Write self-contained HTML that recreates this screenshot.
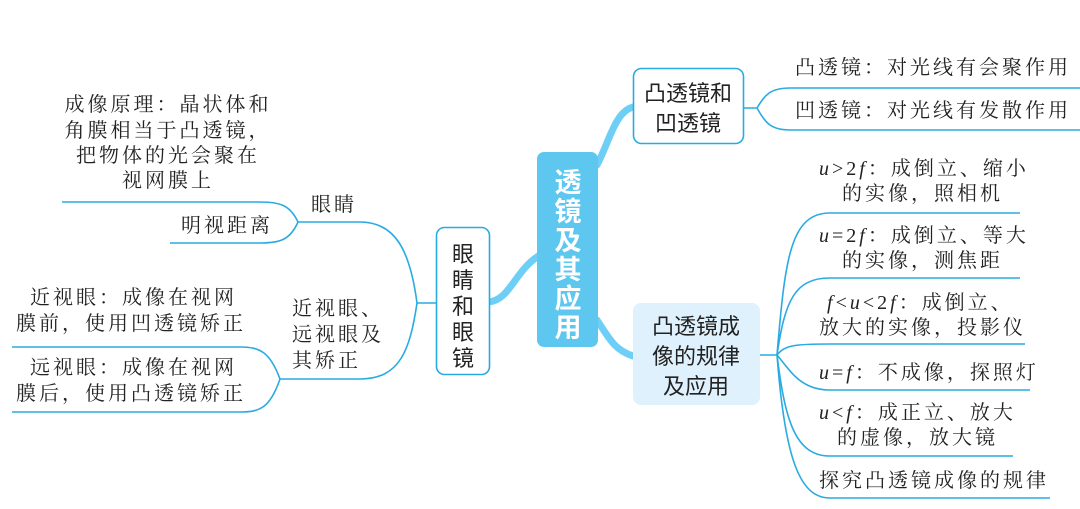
<!DOCTYPE html>
<html><head><meta charset="utf-8"><style>
html,body{margin:0;padding:0;background:#fff;}
svg{display:block;}
.t{font-family:"Liberation Serif","Noto Serif CJK SC",serif;font-size:20px;fill:#222;letter-spacing:3px;}
.b{font-family:"Liberation Sans","Noto Sans CJK SC",sans-serif;font-size:22px;fill:#222;}
.i{font-style:italic;font-family:"Liberation Serif",serif;}
</style></head><body>
<svg width="1080" height="509" viewBox="0 0 1080 509" xmlns="http://www.w3.org/2000/svg">
<g fill="none" stroke="#6dcff6" stroke-width="7" stroke-linecap="round">
<path d="M540 255 C 515 270, 510 300, 489 302"/>
<path d="M597 165 C 610 140, 615 112, 633 107"/>
<path d="M597 320 C 610 340, 615 350, 633 356"/>
</g>
<g fill="none" stroke="#29abe2" stroke-width="1.6">
<path d="M743 108 L757 108 C 765 95, 770 88, 790 88 L1080 88"/>
<path d="M757 108 C 765 122, 770 130, 790 130 L1080 130"/>
<path d="M760 355 L777 355"/>
<path d="M777 355 C 785 260, 790 213, 830 213 L1020 213"/>
<path d="M777 355 C 785 300, 795 278, 830 278 L1020 278"/>
<path d="M777 355 C 785 345, 795 344, 830 344 L1025 344"/>
<path d="M777 355 C 790 370, 800 390, 830 390 L1030 390"/>
<path d="M777 355 C 785 420, 795 456, 830 456 L1013 456"/>
<path d="M777 355 C 785 460, 800 498, 830 498 L1050 498"/>
<path d="M436 303 L417 303"/>
<path d="M417 303 C 410 250, 395 222, 360 222 L298 222"/>
<path d="M417 303 C 410 350, 400 379, 360 379 L280 379"/>
<path d="M298 222 C 290 205, 280 202, 260 202 L62 202"/>
<path d="M298 222 C 290 240, 280 243, 260 243 L170 243"/>
<path d="M280 379 C 270 352, 260 347, 240 347 L12 347"/>
<path d="M280 379 C 270 408, 260 412, 240 412 L12 412"/>
</g>
<rect x="537" y="152" width="61" height="195" rx="7" fill="#5ec7ef"/>
<rect x="633.5" y="68.5" width="110" height="75" rx="8" fill="#fff" stroke="#29abe2" stroke-width="1.6"/>
<rect x="633" y="303" width="127" height="102" rx="8" fill="#dff1fc"/>
<rect x="436.5" y="227.5" width="53" height="147" rx="8" fill="#fff" stroke="#29abe2" stroke-width="1.6"/>
<g font-family="Liberation Sans, Noto Sans CJK SC, sans-serif" font-weight="bold" font-size="27" fill="#fff" text-anchor="middle">
<text x="568" y="192">透</text><text x="568" y="221">镜</text><text x="568" y="250">及</text><text x="568" y="279">其</text><text x="568" y="308">应</text><text x="568" y="337">用</text>
</g>
<g class="b" text-anchor="middle">
<text x="688" y="101">凸透镜和</text><text x="688" y="131">凹透镜</text>
<text x="696" y="334">凸透镜成</text><text x="696" y="364">像的规律</text><text x="696" y="394">及应用</text>
<text x="463" y="262">眼</text><text x="463" y="288">睛</text><text x="463" y="314">和</text><text x="463" y="340">眼</text><text x="463" y="366">镜</text>
</g>
<g class="t">
<text x="795" y="74">凸透镜：对光线有会聚作用</text>
<text x="795" y="117">凹透镜：对光线有发散作用</text>
<text x="819" y="175"><tspan class="i">u</tspan>&gt;2<tspan class="i">f</tspan>：成倒立、缩小</text>
<text x="842" y="200">的实像，照相机</text>
<text x="819" y="242"><tspan class="i">u</tspan>=2<tspan class="i">f</tspan>：成倒立、等大</text>
<text x="842" y="267">的实像，测焦距</text>
<text x="827" y="309"><tspan class="i">f</tspan>&lt;<tspan class="i">u</tspan>&lt;2<tspan class="i">f</tspan>：成倒立、</text>
<text x="819" y="334">放大的实像，投影仪</text>
<text x="819" y="379"><tspan class="i">u</tspan>=<tspan class="i">f</tspan>：不成像，探照灯</text>
<text x="819" y="419"><tspan class="i">u</tspan>&lt;<tspan class="i">f</tspan>：成正立、放大</text>
<text x="837" y="444">的虚像，放大镜</text>
<text x="819" y="487">探究凸透镜成像的规律</text>
<text x="311" y="211">眼睛</text>
<text x="181" y="232">明视距离</text>
<text x="292" y="315">近视眼、</text>
<text x="292" y="341">远视眼及</text>
<text x="292" y="367">其矫正</text>
<text x="30" y="304">近视眼：成像在视网</text>
<text x="16" y="330">膜前，使用凹透镜矫正</text>
<text x="30" y="374">远视眼：成像在视网</text>
<text x="16" y="400">膜后，使用凸透镜矫正</text>
</g>
<g class="t" text-anchor="middle">
<text x="168" y="111">成像原理：晶状体和</text>
<text x="168" y="137">角膜相当于凸透镜，</text>
<text x="168" y="162">把物体的光会聚在</text>
<text x="168" y="187">视网膜上</text>
</g>
</svg>
</body></html>
